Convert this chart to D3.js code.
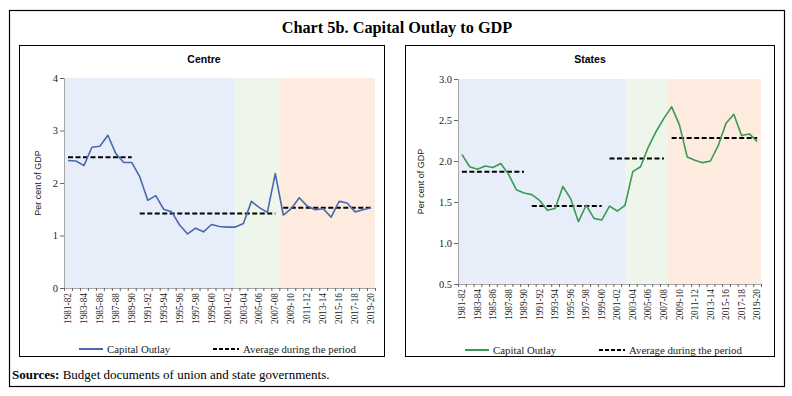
<!DOCTYPE html>
<html>
<head>
<meta charset="utf-8">
<script src="https://cdn.jsdelivr.net/npm/d3@7"></script>
<style>
  body { margin: 0; background: #fff; }
  svg { display: block; }
</style>
</head>
<body>
<svg id="chart" width="792" height="396"></svg>
<script>
// fiscal years on the x axis
const years = [
  "1981-82","1982-83","1983-84","1984-85","1985-86","1986-87","1987-88","1988-89","1989-90","1990-91",
  "1991-92","1992-93","1993-94","1994-95","1995-96","1996-97","1997-98","1998-99","1999-00","2000-01",
  "2001-02","2002-03","2003-04","2004-05","2005-06","2006-07","2007-08","2008-09","2009-10","2010-11",
  "2011-12","2012-13","2013-14","2014-15","2015-16","2016-17","2017-18","2018-19","2019-20"
];

// capital outlay, per cent of GDP
const centreOutlay = [
  2.43, 2.42, 2.33, 2.68, 2.70, 2.91, 2.56, 2.39, 2.39, 2.12,
  1.67, 1.76, 1.50, 1.45, 1.20, 1.03, 1.14, 1.07, 1.21, 1.17,
  1.16, 1.16, 1.23, 1.65, 1.53, 1.44, 2.18, 1.39, 1.51, 1.72,
  1.56, 1.49, 1.51, 1.35, 1.65, 1.62, 1.45, 1.49, 1.53
];
const statesOutlay = [
  2.08, 1.93, 1.90, 1.94, 1.92, 1.97, 1.84, 1.65, 1.61, 1.59,
  1.52, 1.40, 1.42, 1.69, 1.54, 1.26, 1.46, 1.30, 1.28, 1.45,
  1.39, 1.46, 1.87, 1.93, 2.17, 2.36, 2.52, 2.66, 2.44, 2.05,
  2.01, 1.98, 2.00, 2.19, 2.46, 2.57, 2.31, 2.33, 2.24
];

// period averages
const centreAvg = [
  { from: "1981-82", to: "1989-90", value: 2.49 },
  { from: "1990-91", to: "2007-08", value: 1.42 },
  { from: "2008-09", to: "2019-20", value: 1.53 }
];
const statesAvg = [
  { from: "1981-82", to: "1989-90", value: 1.87 },
  { from: "1990-91", to: "1999-00", value: 1.45 },
  { from: "2000-01", to: "2007-08", value: 2.03 },
  { from: "2008-09", to: "2019-20", value: 2.28 }
];

// shaded background phases, in category-index units (i = centre of category i)
const phases = [[-0.5, 21], [21, 26.5], [26.5, 38.5]];
const phaseColors = ["#e8eef9", "#eef5eb", "#fdebdf"];

const centreTicks = [0, 1, 2, 3, 4];
const statesTicks = [0.5, 1.0, 1.5, 2.0, 2.5, 3.0];

const svg = d3.select("#chart");
const serif = "'Liberation Serif', 'DejaVu Serif', serif";
const sans = "'Liberation Sans', Arial, sans-serif";

// outer frame + title + source
svg.append("rect").attr("x", 9.5).attr("y", 10.5).attr("width", 775).attr("height", 376)
  .attr("fill", "none").attr("stroke", "#000").attr("stroke-width", 1.2);
svg.append("text").attr("x", 397).attr("y", 33).attr("text-anchor", "middle")
  .attr("font-family", serif).attr("font-weight", "bold").attr("font-size", 16.3)
  .text("Chart 5b. Capital Outlay to GDP");
const src = svg.append("text").attr("x", 12).attr("y", 379)
  .attr("font-family", serif).attr("font-size", 13);
src.append("tspan").attr("font-weight", "bold").text("Sources:");
src.append("tspan").text(" Budget documents of union and state governments.");

function drawPanel(opt) {
  const g = svg.append("g");
  g.append("rect").attr("x", opt.box[0] + 0.5).attr("y", opt.box[1] + 0.5)
    .attr("width", opt.box[2]).attr("height", opt.box[3])
    .attr("fill", "#fff").attr("stroke", "#000").attr("stroke-width", 1);

  g.append("text").attr("x", opt.titleX).attr("y", 63).attr("text-anchor", "middle")
    .attr("font-family", sans).attr("font-weight", "bold").attr("font-size", 10.5)
    .text(opt.title);

  const x = d3.scaleLinear().domain([-0.5, years.length - 0.5]).range([opt.left, opt.right]);
  const y = d3.scaleLinear().domain(opt.yDomain).range([opt.bottom, opt.top]);

  // phase shading
  g.selectAll("rect.phase").data(phases).join("rect")
    .attr("class", "phase")
    .attr("x", d => x(d[0])).attr("width", d => x(d[1]) - x(d[0]))
    .attr("y", opt.top).attr("height", opt.bottom - opt.top)
    .attr("fill", (d, i) => phaseColors[i]);

  // y axis
  const ya = g.append("g").attr("transform", `translate(${opt.left},0)`)
    .call(d3.axisLeft(y).tickValues(opt.ticks).tickSize(4).tickPadding(2).tickFormat(opt.fmt));
  ya.select(".domain").attr("stroke", "#a6a6a6");
  ya.selectAll(".tick line").attr("stroke", "#666");
  ya.selectAll("text").attr("font-family", serif).attr("font-size", 10.5).attr("fill", "#222");

  // x axis: ticks at category boundaries, labels on every other year
  const xa = g.append("g").attr("transform", `translate(0,${opt.bottom})`)
    .call(d3.axisBottom(x).tickValues(d3.range(-0.5, years.length, 1)).tickSize(3).tickFormat(""));
  xa.select(".domain").attr("stroke", "#a6a6a6");
  xa.selectAll(".tick line").attr("stroke", "#666");
  g.selectAll("text.xl").data(years.filter((d, i) => i % 2 === 0)).join("text")
    .attr("class", "xl")
    .attr("transform", d => `translate(${x(years.indexOf(d))},${opt.bottom + 5}) rotate(-90)`)
    .attr("text-anchor", "end").attr("dy", "0.33em")
    .attr("font-family", serif).attr("font-size", 9.3).attr("fill", "#222")
    .text(d => d);

  // y label
  g.append("text")
    .attr("transform", `translate(${opt.yLabelX},${(opt.top + opt.bottom) / 2}) rotate(-90)`)
    .attr("text-anchor", "middle").attr("font-family", sans).attr("font-size", 9).attr("fill", "#222")
    .text("Per cent of GDP");

  // averages
  g.selectAll("line.avg").data(opt.avg).join("line")
    .attr("class", "avg")
    .attr("x1", d => x(years.indexOf(d.from))).attr("x2", d => x(years.indexOf(d.to)))
    .attr("y1", d => y(d.value)).attr("y2", d => y(d.value))
    .attr("stroke", "#000").attr("stroke-width", 2).attr("stroke-dasharray", "5,2.5");

  // outlay line
  const line = d3.line().x((d, i) => x(i)).y(d => y(d));
  g.append("path").datum(opt.values)
    .attr("d", line).attr("fill", "none")
    .attr("stroke", opt.color).attr("stroke-width", 1.6).attr("stroke-linejoin", "round");

  // legend
  const ly = opt.legendY;
  const lx = opt.box[0];
  g.append("line").attr("x1", lx + 60).attr("x2", lx + 84).attr("y1", ly).attr("y2", ly)
    .attr("stroke", opt.color).attr("stroke-width", 2);
  g.append("text").attr("x", lx + 88).attr("y", ly + 3.5)
    .attr("font-family", serif).attr("font-size", 10.8).attr("fill", "#222").text("Capital Outlay");
  g.append("line").attr("x1", lx + 194).attr("x2", lx + 220).attr("y1", ly).attr("y2", ly)
    .attr("stroke", "#000").attr("stroke-width", 2).attr("stroke-dasharray", "4,2");
  g.append("text").attr("x", lx + 224).attr("y", ly + 3.5)
    .attr("font-family", serif).attr("font-size", 10.8).attr("fill", "#222").text("Average during the period");
}

drawPanel({
  box: [19, 45, 365, 311], title: "Centre", titleX: 204,
  left: 64, right: 375, top: 78, bottom: 288, yDomain: [0, 4],
  ticks: centreTicks, fmt: d3.format("d"), yLabelX: 41,
  avg: centreAvg, values: centreOutlay, color: "#4a68ad", legendY: 349
});
drawPanel({
  box: [405, 45, 369, 311], title: "States", titleX: 590,
  left: 458, right: 761, top: 79, bottom: 284, yDomain: [0.5, 3.0],
  ticks: statesTicks, fmt: d3.format(".1f"), yLabelX: 424,
  avg: statesAvg, values: statesOutlay, color: "#3a9a52", legendY: 350
});
</script>
</body>
</html>
